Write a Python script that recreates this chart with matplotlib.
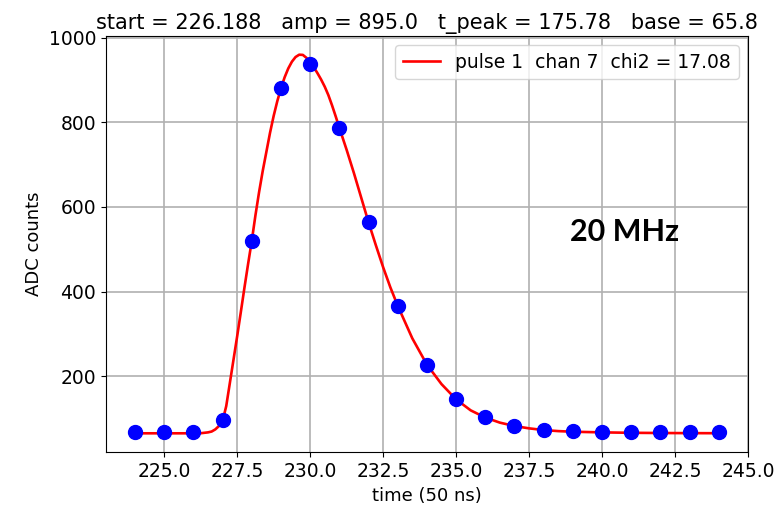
import matplotlib
matplotlib.use('Agg')
import matplotlib.pyplot as plt

# ADC samples (one per 50 ns)
sample_t = [224, 225, 226, 227, 228, 229, 230, 231, 232, 233, 234,
            235, 236, 237, 238, 239, 240, 241, 242, 243, 244]
sample_adc = [70, 70, 70, 97, 520, 881, 938, 787, 564, 367, 228,
              146, 104, 83, 74, 71, 70, 69, 70, 69, 70]

# fitted pulse shape
fit_t = [224.0, 225.0, 226.0, 226.25, 226.5, 226.625, 226.75, 226.875,
         227.0, 227.125, 227.25, 227.375, 227.5, 227.625, 227.75, 227.875,
         228.0, 228.125, 228.25, 228.375, 228.5, 228.625, 228.75, 228.875,
         229.0, 229.125, 229.25, 229.375, 229.5, 229.625, 229.75, 229.875,
         230.0, 230.125, 230.25, 230.375, 230.5, 230.625, 230.75, 230.875,
         231.0, 231.25, 231.5, 231.75, 232.0, 232.25, 232.5, 232.75,
         233.0, 233.5, 234.0, 234.5, 235.0, 235.5, 236.0, 236.5,
         237.0, 237.5, 238.0, 238.5, 239.0, 240.0, 241.0, 242.0,
         243.0, 244.0]
fit_adc = [65.8, 65.8, 65.8, 66, 68, 70, 75, 83,
           95, 130, 185, 240, 295, 352, 410, 466,
           520, 580, 635, 685, 730, 775, 815, 850,
           880, 906, 927, 943, 954, 959.5, 959, 952,
           940, 930, 916, 901, 884, 864, 840, 814,
           787, 735, 680, 622, 564, 510, 458, 410,
           367, 290, 228, 182, 146, 120, 103, 91,
           83, 77.5, 73.5, 71, 69.5, 68, 67, 66.5,
           66.2, 66]

title = 'start = 226.188   amp = 895.0   t_peak = 175.78   base = 65.8'
legend_label = 'pulse 1  chan 7  chi2 = 17.08'

plt.rcParams['font.size'] = 13.5
fig = plt.figure(figsize=(7.84, 5.11), dpi=100)
ax = fig.add_axes([0.135, 0.115, 0.819, 0.815])

ax.plot(fit_t, fit_adc, 'r-', lw=1.9, label=legend_label, zorder=2)
ax.plot(sample_t, sample_adc, 'bo', ms=10, zorder=3)

ax.set_xlabel('time (50 ns)', fontsize=13)
ax.set_ylabel('ADC counts', fontsize=13)
ax.set_title(title, fontsize=15, pad=5)
ax.set_yticks([200, 400, 600, 800, 1000])
ax.grid(True, color='#b0b0b0', lw=1.2)
ax.set_axisbelow(True)
ax.legend(loc='upper right')

ax.text(240.77, 541, '20 MHz', fontsize=22, fontweight='bold', family='Lato',
        ha='center', va='center')

fig.savefig('out.png', dpi=100)
